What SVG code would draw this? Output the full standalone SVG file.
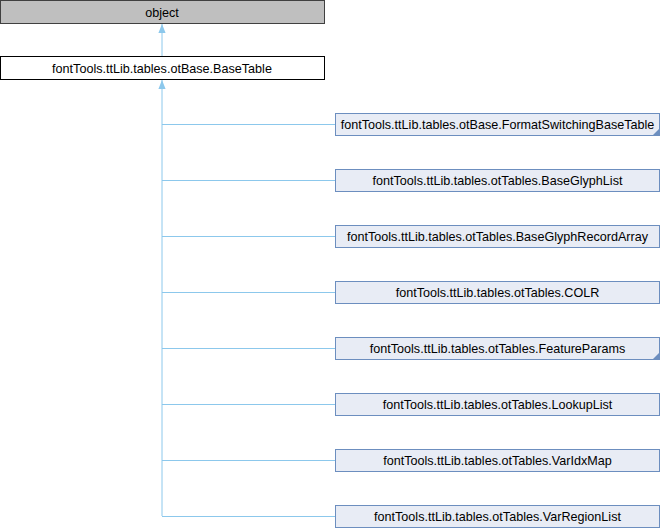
<svg xmlns="http://www.w3.org/2000/svg" width="660" height="528" viewBox="0 0 660 528">
<style>
text{font-family:"Liberation Sans",Arial,sans-serif;font-size:12.6px;text-anchor:middle;fill:#000}
.n rect{fill:#e8ecf5;stroke:#6c8ebf;stroke-width:1}
.e{stroke:#8cc8ec;stroke-width:1;fill:none}
.fold{fill:#6c8ebf}
</style>
<defs>
<marker id="ah" viewBox="0 0 10 10" refX="10" refY="5" markerWidth="9" markerHeight="9" markerUnits="userSpaceOnUse" orient="auto">
<path d="M0,1 L10,5 L0,9 z" fill="#8cc8ec"/>
</marker>
</defs>
<g id="connectors">
<path class="e" d="M162,56 V24" marker-end="url(#ah)"/>
<path class="e" d="M162,516 V80" marker-end="url(#ah)"/>
<path class="e" d="M162,516.5 H335"/>
<path class="e" d="M162,124.5 H335"/>
<path class="e" d="M162,180.5 H335"/>
<path class="e" d="M162,236.5 H335"/>
<path class="e" d="M162,292.5 H335"/>
<path class="e" d="M162,348.5 H335"/>
<path class="e" d="M162,404.5 H335"/>
<path class="e" d="M162,460.5 H335"/>
</g>
<g id="object"><rect x="0.5" y="0.5" width="324" height="23" fill="#bfbfbf" stroke="#404040"/><text x="162" y="16.5">object</text></g>
<g id="BaseTable"><rect x="0.5" y="56.5" width="324" height="23" fill="#fff" stroke="#000"/><text x="162" y="72.5">fontTools.ttLib.tables.otBase.BaseTable</text></g>
<g id="FormatSwitchingBaseTable" class="n"><rect x="335.5" y="113.5" width="324" height="22"/><path class="fold" d="M659,129 V135 H653 z"/><text x="497.5" y="128.5">fontTools.ttLib.tables.otBase.FormatSwitchingBaseTable</text></g>
<g id="BaseGlyphList" class="n"><rect x="335.5" y="169.5" width="324" height="22"/><text x="497.5" y="184.5">fontTools.ttLib.tables.otTables.BaseGlyphList</text></g>
<g id="BaseGlyphRecordArray" class="n"><rect x="335.5" y="225.5" width="324" height="22"/><text x="497.5" y="240.5">fontTools.ttLib.tables.otTables.BaseGlyphRecordArray</text></g>
<g id="COLR" class="n"><rect x="335.5" y="281.5" width="324" height="22"/><text x="497.5" y="296.5">fontTools.ttLib.tables.otTables.COLR</text></g>
<g id="FeatureParams" class="n"><rect x="335.5" y="337.5" width="324" height="22"/><path class="fold" d="M659,353 V359 H653 z"/><text x="497.5" y="352.5">fontTools.ttLib.tables.otTables.FeatureParams</text></g>
<g id="LookupList" class="n"><rect x="335.5" y="393.5" width="324" height="22"/><text x="497.5" y="408.5">fontTools.ttLib.tables.otTables.LookupList</text></g>
<g id="VarIdxMap" class="n"><rect x="335.5" y="449.5" width="324" height="22"/><text x="497.5" y="464.5">fontTools.ttLib.tables.otTables.VarIdxMap</text></g>
<g id="VarRegionList" class="n"><rect x="335.5" y="505.5" width="324" height="22"/><text x="497.5" y="520.5">fontTools.ttLib.tables.otTables.VarRegionList</text></g>
</svg>
